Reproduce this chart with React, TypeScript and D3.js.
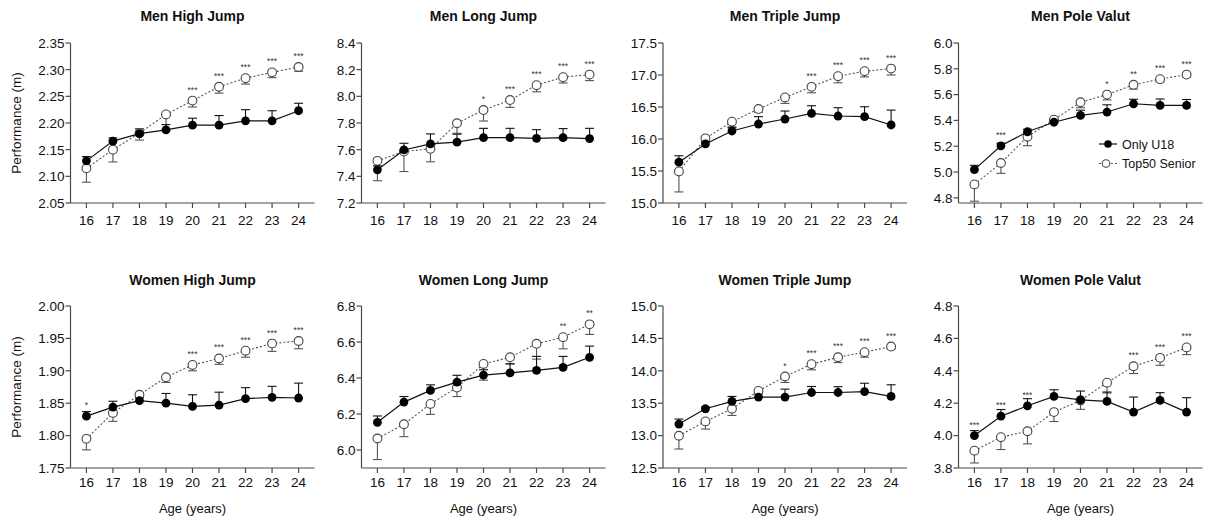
import React from 'react';
import * as d3 from 'd3';

// ---------- DATA ----------
const ages = [16, 17, 18, 19, 20, 21, 22, 23, 24];
const seriesNames = ['Only U18', 'Top50 Senior'];

// Men High Jump
const menHighJumpU18 = [2.129, 2.166, 2.180, 2.187, 2.196, 2.196, 2.204, 2.204, 2.223];
const menHighJumpU18Err = [0.008, 0.006, 0.009, 0.010, 0.013, 0.018, 0.021, 0.019, 0.014];
const menHighJumpTop50 = [2.115, 2.150, 2.181, 2.216, 2.242, 2.268, 2.284, 2.295, 2.305];
const menHighJumpTop50Err = [0.026, 0.023, 0.013, 0.030, 0.012, 0.012, 0.011, 0.010, 0.008];
const menHighJumpStars = ['', '', '', '', '***', '***', '***', '***', '***'];
const menHighJumpTicks = [2.05, 2.10, 2.15, 2.20, 2.25, 2.30, 2.35];

// Men Long Jump
const menLongJumpU18 = [7.449, 7.598, 7.643, 7.656, 7.690, 7.690, 7.685, 7.690, 7.683];
const menLongJumpU18Err = [0.03, 0.05, 0.075, 0.06, 0.07, 0.07, 0.065, 0.068, 0.077];
const menLongJumpTop50 = [7.516, 7.586, 7.606, 7.798, 7.897, 7.972, 8.084, 8.144, 8.163];
const menLongJumpTop50Err = [0.149, 0.15, 0.097, 0.075, 0.082, 0.055, 0.05, 0.044, 0.045];
const menLongJumpStars = ['', '', '', '', '*', '***', '***', '***', '***'];
const menLongJumpTicks = [7.2, 7.4, 7.6, 7.8, 8.0, 8.2, 8.4];

// Men Triple Jump
const menTripleJumpU18 = [15.638, 15.923, 16.125, 16.234, 16.312, 16.40, 16.359, 16.349, 16.219];
const menTripleJumpU18Err = [0.10, 0.03, 0.05, 0.115, 0.125, 0.12, 0.13, 0.155, 0.233];
const menTripleJumpTop50 = [15.493, 16.01, 16.27, 16.468, 16.65, 16.815, 16.981, 17.059, 17.10];
const menTripleJumpTop50Err = [0.32, 0.03, 0.08, 0.05, 0.094, 0.093, 0.103, 0.089, 0.10];
const menTripleJumpStars = ['', '', '', '', '', '***', '***', '***', '***'];
const menTripleJumpTicks = [15.0, 15.5, 16.0, 16.5, 17.0, 17.5];

// Men Pole Vault
const menPoleVaultU18 = [5.019, 5.203, 5.312, 5.386, 5.439, 5.465, 5.529, 5.516, 5.516];
const menPoleVaultU18Err = [0.033, 0.02, 0.02, 0.02, 0.04, 0.056, 0.035, 0.05, 0.046];
const menPoleVaultTop50 = [4.904, 5.07, 5.274, 5.406, 5.541, 5.60, 5.676, 5.72, 5.755];
const menPoleVaultTop50Err = [0.13, 0.08, 0.07, 0.02, 0.043, 0.041, 0.033, 0.02, 0.02];
const menPoleVaultStars = ['', '***', '', '', '', '*', '**', '***', '***'];
const menPoleVaultTicks = [4.8, 5.0, 5.2, 5.4, 5.6, 5.8, 6.0];

// Women High Jump
const womenHighJumpU18 = [1.830, 1.844, 1.854, 1.850, 1.845, 1.847, 1.857, 1.859, 1.858];
const womenHighJumpU18Err = [0.007, 0.009, 0.005, 0.015, 0.018, 0.020, 0.017, 0.017, 0.023];
const womenHighJumpTop50 = [1.795, 1.835, 1.863, 1.890, 1.909, 1.919, 1.931, 1.942, 1.946];
const womenHighJumpTop50Err = [0.017, 0.013, 0.005, 0.008, 0.009, 0.009, 0.010, 0.012, 0.012];
const womenHighJumpStars = ['*', '', '', '', '***', '***', '***', '***', '***'];
const womenHighJumpTicks = [1.75, 1.80, 1.85, 1.90, 1.95, 2.00];

// Women Long Jump
const womenLongJumpU18 = [6.154, 6.266, 6.331, 6.377, 6.416, 6.428, 6.442, 6.459, 6.515];
const womenLongJumpU18Err = [0.035, 0.031, 0.031, 0.038, 0.03, 0.05, 0.078, 0.061, 0.062];
const womenLongJumpTop50 = [6.064, 6.143, 6.256, 6.347, 6.478, 6.515, 6.59, 6.627, 6.698];
const womenLongJumpTop50Err = [0.117, 0.069, 0.058, 0.05, 0.09, 0.035, 0.085, 0.065, 0.056];
const womenLongJumpStars = ['', '', '', '', '', '', '', '**', '**'];
const womenLongJumpTicks = [6.0, 6.2, 6.4, 6.6, 6.8];

// Women Triple Jump
const womenTripleJumpU18 = [13.178, 13.414, 13.527, 13.594, 13.594, 13.665, 13.665, 13.68, 13.604];
const womenTripleJumpU18Err = [0.077, 0.03, 0.077, 0.05, 0.123, 0.093, 0.09, 0.128, 0.18];
const womenTripleJumpTop50 = [12.998, 13.219, 13.414, 13.69, 13.912, 14.102, 14.209, 14.287, 14.374];
const womenTripleJumpTop50Err = [0.205, 0.118, 0.103, 0.03, 0.092, 0.087, 0.082, 0.077, 0.04];
const womenTripleJumpStars = ['', '', '', '', '*', '***', '***', '***', '***'];
const womenTripleJumpTicks = [12.5, 13.0, 13.5, 14.0, 14.5, 15.0];

// Women Pole Vault
const womenPoleVaultU18 = [4.0, 4.12, 4.184, 4.242, 4.221, 4.211, 4.145, 4.217, 4.145];
const womenPoleVaultU18Err = [0.031, 0.041, 0.044, 0.041, 0.054, 0.058, 0.093, 0.048, 0.089];
const womenPoleVaultTop50 = [3.907, 3.99, 4.027, 4.145, 4.217, 4.327, 4.428, 4.48, 4.544];
const womenPoleVaultTop50Err = [0.076, 0.076, 0.078, 0.058, 0.055, 0.064, 0.045, 0.046, 0.044];
const womenPoleVaultStars = ['***', '***', '***', '', '', '', '***', '***', '***'];
const womenPoleVaultTicks = [3.8, 4.0, 4.2, 4.4, 4.6, 4.8];

type Panel = {
  title: string;
  u18: number[];
  u18Err: number[];
  top: number[];
  topErr: number[];
  stars: string[];
  ticks: number[];
  domain: [number, number];
  fmt: string;
};

const panels: Panel[] = [
  { title: 'Men High Jump', u18: menHighJumpU18, u18Err: menHighJumpU18Err, top: menHighJumpTop50, topErr: menHighJumpTop50Err, stars: menHighJumpStars, ticks: menHighJumpTicks, domain: [2.05, 2.35], fmt: '.2f' },
  { title: 'Men Long Jump', u18: menLongJumpU18, u18Err: menLongJumpU18Err, top: menLongJumpTop50, topErr: menLongJumpTop50Err, stars: menLongJumpStars, ticks: menLongJumpTicks, domain: [7.2, 8.4], fmt: '.1f' },
  { title: 'Men Triple Jump', u18: menTripleJumpU18, u18Err: menTripleJumpU18Err, top: menTripleJumpTop50, topErr: menTripleJumpTop50Err, stars: menTripleJumpStars, ticks: menTripleJumpTicks, domain: [15.0, 17.5], fmt: '.1f' },
  { title: 'Men Pole Valut', u18: menPoleVaultU18, u18Err: menPoleVaultU18Err, top: menPoleVaultTop50, topErr: menPoleVaultTop50Err, stars: menPoleVaultStars, ticks: menPoleVaultTicks, domain: [4.76, 6.0], fmt: '.1f' },
  { title: 'Women High Jump', u18: womenHighJumpU18, u18Err: womenHighJumpU18Err, top: womenHighJumpTop50, topErr: womenHighJumpTop50Err, stars: womenHighJumpStars, ticks: womenHighJumpTicks, domain: [1.75, 2.0], fmt: '.2f' },
  { title: 'Women Long Jump', u18: womenLongJumpU18, u18Err: womenLongJumpU18Err, top: womenLongJumpTop50, topErr: womenLongJumpTop50Err, stars: womenLongJumpStars, ticks: womenLongJumpTicks, domain: [5.9, 6.8], fmt: '.1f' },
  { title: 'Women Triple Jump', u18: womenTripleJumpU18, u18Err: womenTripleJumpU18Err, top: womenTripleJumpTop50, topErr: womenTripleJumpTop50Err, stars: womenTripleJumpStars, ticks: womenTripleJumpTicks, domain: [12.5, 15.0], fmt: '.1f' },
  { title: 'Women Pole Valut', u18: womenPoleVaultU18, u18Err: womenPoleVaultU18Err, top: womenPoleVaultTop50, topErr: womenPoleVaultTop50Err, stars: womenPoleVaultStars, ticks: womenPoleVaultTicks, domain: [3.8, 4.8], fmt: '.1f' },
];

// ---------- LAYOUT ----------
const W = 1216;
const H = 522;
const FONT = "'Liberation Sans', Arial, Helvetica, sans-serif";
const colX = [70.5, 361.5, 663, 958.5];
const plotW = 244;
const rows = [
  { top: 43, bottom: 203, titleY: 21, labelY: 224.5, yLabelY: 123 },
  { top: 306, bottom: 468, titleY: 285, labelY: 486.5, yLabelY: 387 },
];
const AXIS = '#4a4a4a';
const R = 4.4;
const CAP = 4.5;

function PanelView({ p, idx }: { p: Panel; idx: number }) {
  const col = idx % 4;
  const row = Math.floor(idx / 4);
  const rr = rows[row];
  const x0 = colX[col];
  const x = d3.scaleLinear().domain([15.4, 24.6]).range([x0, x0 + plotW]);
  const y = d3.scaleLinear().domain(p.domain).range([rr.bottom, rr.top]);
  const fmt = d3.format(p.fmt);
  const line = d3
    .line<number>()
    .x((_, i) => x(ages[i]))
    .y((v) => y(v));

  return (
    <g>
      {/* title */}
      <text x={x0 + plotW / 2} y={rr.titleY} textAnchor="middle" fontSize={14} fontWeight="bold" fontFamily={FONT} fill="#111">
        {p.title}
      </text>
      {/* y axis */}
      <line x1={x0} x2={x0} y1={rr.top} y2={rr.bottom} stroke={AXIS} strokeWidth={1.2} />
      {p.ticks.map((t) => (
        <g key={'yt' + t}>
          <line x1={x0 - 5} x2={x0} y1={y(t)} y2={y(t)} stroke={AXIS} strokeWidth={1.2} />
          <text x={x0 - 6} y={y(t)} dy="0.36em" textAnchor="end" fontSize={13.5} fontFamily={FONT} fill="#111">
            {fmt(t)}
          </text>
        </g>
      ))}
      {/* x axis */}
      <line x1={x0} x2={x0 + plotW} y1={rr.bottom} y2={rr.bottom} stroke={AXIS} strokeWidth={1.2} />
      {ages.map((a) => (
        <g key={'xt' + a}>
          <line x1={x(a)} x2={x(a)} y1={rr.bottom} y2={rr.bottom + 5} stroke={AXIS} strokeWidth={1.2} />
          <text x={x(a)} y={rr.labelY} textAnchor="middle" fontSize={13.5} fontFamily={FONT} fill="#111">
            {a}
          </text>
        </g>
      ))}
      {/* axis titles */}
      {col === 0 && (
        <text
          transform={`translate(16,${rr.yLabelY}) rotate(-90)`}
          dy="0.36em"
          textAnchor="middle"
          fontSize={13.5}
          fontFamily={FONT}
          fill="#111"
        >
          Performance (m)
        </text>
      )}
      {row === 1 && (
        <text x={x0 + plotW / 2} y={512.5} textAnchor="middle" fontSize={13} fontFamily={FONT} fill="#111">
          Age (years)
        </text>
      )}
      {/* Top50 senior: error bars (down), dotted line */}
      {p.top.map((v, i) => (
        <g key={'te' + i}>
          <line x1={x(ages[i])} x2={x(ages[i])} y1={y(v)} y2={y(v - p.topErr[i])} stroke="#555" strokeWidth={1.1} />
          <line x1={x(ages[i]) - CAP} x2={x(ages[i]) + CAP} y1={y(v - p.topErr[i])} y2={y(v - p.topErr[i])} stroke="#555" strokeWidth={1.1} />
        </g>
      ))}
      <path d={line(p.top) || ''} fill="none" stroke="#555" strokeWidth={1.1} strokeDasharray="2,2" />
      {/* U18 error bars (up) */}
      {p.u18.map((v, i) => (
        <g key={'ue' + i}>
          <line x1={x(ages[i])} x2={x(ages[i])} y1={y(v)} y2={y(v + p.u18Err[i])} stroke="#111" strokeWidth={1.1} />
          <line x1={x(ages[i]) - CAP} x2={x(ages[i]) + CAP} y1={y(v + p.u18Err[i])} y2={y(v + p.u18Err[i])} stroke="#111" strokeWidth={1.1} />
        </g>
      ))}
      {/* Top50 markers */}
      {p.top.map((v, i) => (
        <circle key={'tm' + i} cx={x(ages[i])} cy={y(v)} r={R} fill="#fff" stroke="#444" strokeWidth={1.1} />
      ))}
      {/* U18 line + markers */}
      <path d={line(p.u18) || ''} fill="none" stroke="#111" strokeWidth={1.2} />
      {p.u18.map((v, i) => (
        <circle key={'um' + i} cx={x(ages[i])} cy={y(v)} r={R} fill="#000" />
      ))}
      {/* significance stars */}
      {p.stars.map((s, i) =>
        s ? (
          <text
            key={'s' + i}
            x={x(ages[i])}
            y={Math.min(y(p.u18[i]), y(p.top[i])) - 8}
            textAnchor="middle"
            fontSize={8.5}
            fontFamily={FONT}
            fill="#333"
          >
            {s}
          </text>
        ) : null
      )}
    </g>
  );
}

function Legend() {
  const lx = 1108;
  const items = [
    { y: 144, filled: true },
    { y: 163.5, filled: false },
  ];
  return (
    <g>
      {items.map((it, i) => (
        <g key={i}>
          <line
            x1={lx - 9}
            x2={lx + 9}
            y1={it.y}
            y2={it.y}
            stroke={it.filled ? '#111' : '#555'}
            strokeWidth={1.2}
            strokeDasharray={it.filled ? undefined : '2,2'}
          />
          {it.filled ? (
            <circle cx={lx} cy={it.y} r={3.8} fill="#000" />
          ) : (
            <circle cx={lx - 2} cy={it.y} r={3.8} fill="#fff" stroke="#444" strokeWidth={1.1} />
          )}
          <text x={1122} y={it.y} dy="0.36em" fontSize={12.5} fontFamily={FONT} fill="#111">
            {seriesNames[i]}
          </text>
        </g>
      ))}
    </g>
  );
}

export default function App() {
  return (
    <svg
      width={W}
      height={H}
      viewBox={`0 0 ${W} ${H}`}
      style={{ position: 'absolute', left: 0, top: 0, background: '#fff', display: 'block' }}
    >
      <rect x={0} y={0} width={W} height={H} fill="#fff" />
      {panels.map((p, i) => (
        <PanelView key={p.title} p={p} idx={i} />
      ))}
      <Legend />
    </svg>
  );
}
